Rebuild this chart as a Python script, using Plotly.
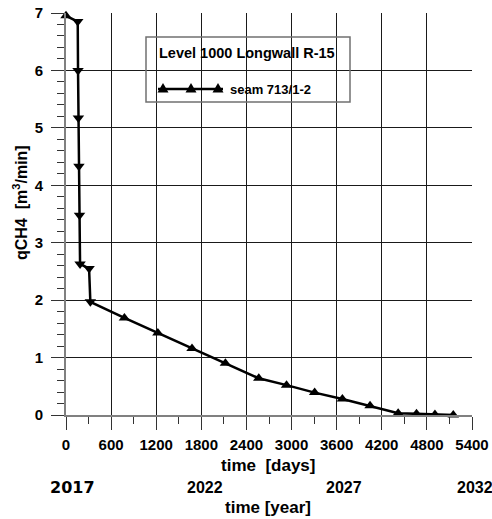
import plotly.graph_objects as go

# data
days = [0, 156, 160, 165, 172, 180, 187, 307, 324, 777, 1222, 1676, 2120,
        2564, 2933, 3307, 3676, 4044, 4418, 4662, 4907, 5151]
q_ch4 = [6.95, 6.85, 6.0, 5.17, 4.33, 3.48, 2.63, 2.55, 1.97, 1.69, 1.43, 1.16, 0.90,
         0.64, 0.52, 0.39, 0.28, 0.16, 0.03, 0.02, 0.01, 0.0]
symbols = ["triangle-up"] + ["triangle-down"] * 8 + ["triangle-up"] * 13

x_ticks = [0, 600, 1200, 1800, 2400, 3000, 3600, 4200, 4800, 5400]
y_ticks = [0, 1, 2, 3, 4, 5, 6, 7]
year_labels = ["2017", "2022", "2027", "2032"]

series_name = "seam 713/1-2"
legend_title = "Level 1000 Longwall R-15"

fig = go.Figure()
fig.add_trace(go.Scatter(
    x=days, y=q_ch4, mode="lines+markers", name=series_name,
    line=dict(color="black", width=2.5),
    marker=dict(symbol=symbols, size=10, color="black"),
    showlegend=False, cliponaxis=False,
))

W, H = 492, 519
L, R, T, B = 66, 20, 13, 104
pw, ph = W - L - R, H - T - B


def px_x(p):
    return (p - L) / pw


def px_y(p):
    return (H - B - p) / ph


fig.update_layout(
    width=W, height=H,
    margin=dict(l=L, r=R, t=T, b=B, autoexpand=False),
    paper_bgcolor="white", plot_bgcolor="white",
    font=dict(family="Arial, Liberation Sans, sans-serif", size=15, color="black"),
    xaxis=dict(
        range=[0, 5400], tickvals=x_ticks,
        ticktext=[f"<b>{v}</b>" for v in x_ticks],
        showgrid=True, gridcolor="#1a1a1a", gridwidth=1,
        ticks="outside", ticklen=13, tickcolor="#333", tickwidth=1.2,
        minor=dict(dtick=300, ticks="outside", ticklen=7, tickcolor="#333", showgrid=False),
        showline=True, linecolor="#808080", linewidth=2,
        zeroline=False, mirror=False, automargin=False,
        tickfont=dict(size=15), ticklabelstandoff=2,
    ),
    yaxis=dict(
        range=[0, 7], tickvals=y_ticks,
        ticktext=[f"<b>{v}</b>" for v in y_ticks],
        showgrid=True, gridcolor="#1a1a1a", gridwidth=1,
        ticks="outside", ticklen=13, tickcolor="#333", tickwidth=1.2,
        minor=dict(dtick=0.2, ticks="outside", ticklen=7, tickcolor="#333", showgrid=False),
        showline=True, linecolor="#808080", linewidth=2,
        zeroline=False, mirror=False, automargin=False,
        tickfont=dict(size=15), ticklabelstandoff=5,
    ),
)

annotations = []
# axis titles
annotations.append(dict(text="<b>time&nbsp; [days]</b>", xref="paper", yref="paper",
                        x=px_x(268), y=px_y(465), showarrow=False,
                        font=dict(size=17), xanchor="center", yanchor="middle"))
annotations.append(dict(text="<b>time [year]</b>", xref="paper", yref="paper",
                        x=px_x(268), y=px_y(507), showarrow=False,
                        font=dict(size=17), xanchor="center", yanchor="middle"))
annotations.append(dict(text="<b>qCH4&nbsp; [m<sup>3</sup>/min]</b>", xref="paper", yref="paper",
                        x=px_x(20), y=px_y(203), showarrow=False, textangle=-90,
                        font=dict(size=16), xanchor="center", yanchor="middle"))
# year labels (pixel centres)
year_px = [72, 205, 344, 475]
for i, (lab, cx) in enumerate(zip(year_labels, year_px)):
    if i == 0:
        f = dict(family="Arial Black, DejaVu Sans, sans-serif", size=16, color="black")
    else:
        f = dict(size=16)
    annotations.append(dict(text=f"<b>{lab}</b>", xref="paper", yref="paper",
                            x=px_x(cx), y=px_y(487), showarrow=False, font=f,
                            xanchor="center", yanchor="middle"))
# legend box contents
annotations.append(dict(text=f"<b>{legend_title}</b>", xref="paper", yref="paper",
                        x=px_x(157), y=px_y(53), showarrow=False,
                        font=dict(size=14.5), xanchor="left", yanchor="middle"))
annotations.append(dict(text=f"<b>{series_name}</b>", xref="paper", yref="paper",
                        x=px_x(228), y=px_y(89), showarrow=False,
                        font=dict(size=13), xanchor="left", yanchor="middle"))
fig.update_layout(annotations=annotations)

shapes = [
    dict(type="rect", xref="paper", yref="paper",
         x0=px_x(146), x1=px_x(350), y0=px_y(102), y1=px_y(37),
         line=dict(color="#707070", width=1.5), fillcolor="rgba(0,0,0,0)"),
    dict(type="line", xref="paper", yref="paper",
         x0=px_x(158), x1=px_x(223), y0=px_y(89), y1=px_y(89),
         line=dict(color="black", width=2.5)),
]
for cx in (163, 191, 218):
    cy = 88
    s = 5.5
    path = (f"M {px_x(cx - s)} {px_y(cy + 4.5)} L {px_x(cx + s)} {px_y(cy + 4.5)} "
            f"L {px_x(cx)} {px_y(cy - 5)} Z")
    shapes.append(dict(type="path", xref="paper", yref="paper", path=path,
                       fillcolor="black", line=dict(color="black", width=0)))
fig.update_layout(shapes=shapes)

fig.write_html("out.html", config={"displayModeBar": False},
               post_script="document.body.style.margin='0';document.body.style.overflow='hidden';")
